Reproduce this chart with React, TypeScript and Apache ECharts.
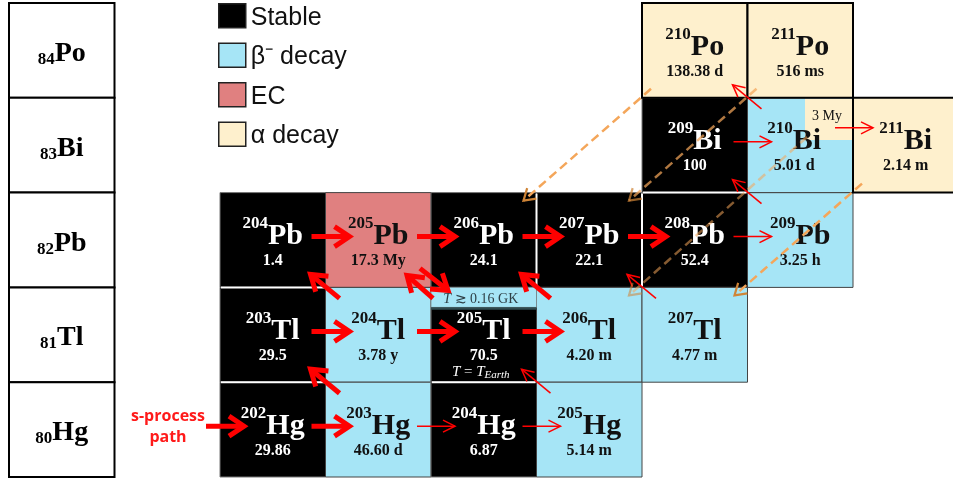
import React, { useEffect, useRef } from "react";
import * as echarts from "echarts";

// ---------------- data ----------------
const rowZ = [84, 83, 82, 81, 80];
const rowSymbols = ["Po", "Bi", "Pb", "Tl", "Hg"];

const cellMass = [204, 205, 206, 207, 208, 209, 203, 204, 205, 206, 207, 202, 203, 204, 205, 209, 210, 211, 210, 211];
const cellZ = [82, 82, 82, 82, 82, 82, 81, 81, 81, 81, 81, 80, 80, 80, 80, 83, 83, 83, 84, 84];
const cellValue = [
  "1.4", "17.3 My", "24.1", "22.1", "52.4", "3.25 h",
  "29.5", "3.78 y", "70.5", "4.20 m", "4.77 m",
  "29.86", "46.60 d", "6.87", "5.14 m",
  "100", "5.01 d", "2.14 m",
  "138.38 d", "516 ms",
];
const cellMode = [
  "stable", "ec", "stable", "stable", "stable", "beta",
  "stable", "beta", "stable", "beta", "beta",
  "stable", "beta", "stable", "beta",
  "stable", "beta", "alpha",
  "alpha", "alpha",
];

// isomer 210mBi
const isomerMass = 210;
const isomerZ = 83;
const isomerHalfLife = "3 My";

// notes on 205Tl
const noteMass = 205;
const noteZ = 81;

// arrows (from nuclide A,Z -> to nuclide A,Z)
const arrowFromA = [201, 202, 203, 204, 205, 204, 205, 206, 207, 208, 203, 204, 209, 210, 204, 203, 206, 205, 205, 205, 207, 209, 210, 210, 211, 211, 210];
const arrowFromZ = [80, 80, 81, 81, 81, 82, 82, 82, 82, 82, 80, 80, 83, 83, 81, 80, 81, 81, 82, 80, 81, 82, 83, 84, 84, 83, 83];
const arrowToA = [202, 203, 204, 205, 206, 205, 206, 207, 208, 209, 204, 205, 210, 211, 204, 203, 206, 205, 205, 205, 207, 209, 210, 206, 207, 207, 206];
const arrowToZ = [80, 80, 81, 81, 81, 82, 82, 82, 82, 82, 80, 80, 83, 83, 82, 81, 82, 82, 81, 81, 82, 83, 84, 82, 82, 81, 81];
const arrowKind = [
  "thick", "thick", "thick", "thick", "thick", "thick", "thick", "thick", "thick",
  "thin", "thin", "thin", "thin", "thin",
  "thick", "thick", "thick", "thick", "thick",
  "thin", "thin", "thin", "thin",
  "alpha", "alpha", "alpha", "alpha",
];
const arrowFromIsomer = [
  false, false, false, false, false, false, false, false, false,
  false, false, false, false, true,
  false, false, false, false, false,
  false, false, false, false,
  false, false, false, true,
];
const entryLabel = ["s-process", "path"];

const legendNames = ["Stable", "β⁻ decay", "EC", "α decay"];
const legendModes = ["stable", "beta", "ec", "alpha"];

// ---------------- styles ----------------
const modeFill: Record<string, string> = {
  stable: "#000000",
  beta: "#a6e5f6",
  ec: "#e08080",
  alpha: "#fef0cd",
};
const modeStroke: Record<string, string> = {
  stable: "#777777",
  beta: "#444444",
  ec: "#444444",
  alpha: "#000000",
};
const modeStrokeW: Record<string, number> = { stable: 1, beta: 1, ec: 1, alpha: 2 };
const SERIF = '"Liberation Serif", "Times New Roman", serif';
const RED = "#ff0000";
const ORANGE = "#f4a65a";
const ISO_W = 0.455;
const ISO_H = 0.445;

// layout of the axes (pixel mapping)
const CHART_W = 953;
const CHART_H = 480;
const COL0_LEFT = 220;
const COL_W = 105.5;
const ROW0_TOP = 3;
const ROW_H = 94.8;
const X_MIN = 121.5 - COL0_LEFT / COL_W;
const X_MAX = 121.5 + (CHART_W - COL0_LEFT) / COL_W;
const Y_MAX = 84.5 + ROW0_TOP / ROW_H;
const Y_MIN = 84.5 - (CHART_H - ROW0_TOP) / ROW_H;

let measureCtx: CanvasRenderingContext2D | null = null;
function measure(text: string, font: string): number {
  if (!measureCtx) measureCtx = document.createElement("canvas").getContext("2d");
  if (!measureCtx) return text.length * 8;
  measureCtx.font = font;
  return measureCtx.measureText(text).width;
}

type Seg = { text: string; size: number; weight?: string; italic?: boolean; family?: string; dy?: number };

function layoutSegs(segs: Seg[], cx: number, cy: number, fill: string) {
  const fonts = segs.map(
    (s) => `${s.italic ? "italic " : ""}${s.weight || "normal"} ${s.size}px ${s.family || SERIF}`
  );
  const widths = segs.map((s, k) => measure(s.text, fonts[k]));
  const total = widths.reduce((a, b) => a + b, 0);
  let x = cx - total / 2;
  return segs.map((s, k) => {
    const el = {
      type: "text",
      x,
      y: cy + (s.dy || 0),
      style: {
        text: s.text,
        fill,
        fontSize: s.size,
        fontWeight: s.weight || "normal",
        fontStyle: s.italic ? "italic" : "normal",
        fontFamily: s.family || SERIF,
        align: "left",
        verticalAlign: "middle",
      },
    };
    x += widths[k];
    return el;
  });
}

function symbolOf(z: number) {
  return rowSymbols[rowZ.indexOf(z)];
}

function cellIndex(a: number, z: number) {
  for (let k = 0; k < cellMass.length; k++) if (cellMass[k] === a && cellZ[k] === z) return k;
  return -1;
}

export default function App() {
  const ref = useRef<HTMLDivElement>(null);

  useEffect(() => {
    if (!ref.current) return;
    const chart = echarts.init(ref.current, undefined, { renderer: "svg" });

    const cellData = cellMass.map((a, i) => [a - cellZ[i], cellZ[i], i]);

    const cellRender = (_p: any, api: any) => {
      const i = api.value(2);
      const N = api.value(0);
      const Z = api.value(1);
      const tl = api.coord([N - 0.5, Z + 0.5]);
      const br = api.coord([N + 0.5, Z - 0.5]);
      const w = br[0] - tl[0];
      const h = br[1] - tl[1];
      const mode = cellMode[i];
      const children: any[] = [
        {
          type: "rect",
          shape: { x: tl[0], y: tl[1], width: w, height: h },
          style: { fill: modeFill[mode], stroke: modeStroke[mode], lineWidth: modeStrokeW[mode] },
        },
      ];
      const hasIso = cellMass[i] === isomerMass && cellZ[i] === isomerZ;
      if (hasIso) {
        const q = api.coord([N + 0.5 - ISO_W, Z + 0.5 - ISO_H]);
        children.push({
          type: "rect",
          shape: { x: q[0], y: tl[1] + 1, width: br[0] - q[0] - 1, height: q[1] - tl[1] - 1 },
          style: { fill: modeFill.alpha },
        });
        children.push(
          ...layoutSegs([{ text: isomerHalfLife, size: 14 }], (q[0] + br[0]) / 2 - 2, (tl[1] + q[1]) / 2 - 3, "#111")
        );
      }
      const fill = mode === "stable" ? "#ffffff" : "#111111";
      const cx = tl[0] + w / 2 + (hasIso ? -6 : 0);
      const massTxt = String(cellMass[i]);
      const sym = symbolOf(cellZ[i]);
      const fm = `bold 17px ${SERIF}`;
      const fs = `bold 30px ${SERIF}`;
      const wm = measure(massTxt, fm);
      const ws = measure(sym, fs);
      const x0 = cx - (wm + ws) / 2;
      children.push({
        type: "text",
        x: x0,
        y: tl[1] + 30,
        style: { text: massTxt, fill, fontSize: 17, fontWeight: "bold", fontFamily: SERIF, align: "left", verticalAlign: "middle" },
      });
      children.push({
        type: "text",
        x: x0 + wm,
        y: tl[1] + 41,
        style: { text: sym, fill, fontSize: 30, fontWeight: "bold", fontFamily: SERIF, align: "left", verticalAlign: "middle" },
      });
      children.push({
        type: "text",
        x: cx,
        y: tl[1] + 67,
        style: { text: cellValue[i], fill, fontSize: 16, fontWeight: "bold", fontFamily: SERIF, align: "center", verticalAlign: "middle" },
      });
      return { type: "group", children };
    };

    // white separators between neighbouring stable cells
    const sepData: number[][] = [];
    for (let i = 0; i < cellMass.length; i++) {
      for (let j = 0; j < cellMass.length; j++) {
        if (cellMode[i] !== "stable" || cellMode[j] !== "stable") continue;
        const Ni = cellMass[i] - cellZ[i];
        const Nj = cellMass[j] - cellZ[j];
        if (cellZ[i] === cellZ[j] && Nj === Ni + 1) sepData.push([Ni, cellZ[i], 0]);
        if (Ni === Nj && cellZ[j] === cellZ[i] - 1) {
          if (cellMass[j] === noteMass && cellZ[j] === noteZ) continue;
          sepData.push([Ni, cellZ[i], 1]);
        }
      }
    }
    const sepRender = (_p: any, api: any) => {
      const N = api.value(0);
      const Z = api.value(1);
      const vertical = api.value(2) === 0;
      let shape;
      if (vertical) {
        const a = api.coord([N + 0.5, Z + 0.5]);
        const b = api.coord([N + 0.5, Z - 0.5]);
        shape = { x1: a[0], y1: a[1] + 1, x2: b[0], y2: b[1] - 1 };
      } else {
        const a = api.coord([N - 0.5, Z - 0.5]);
        const b = api.coord([N + 0.5, Z - 0.5]);
        shape = { x1: a[0] + 1, y1: a[1], x2: b[0] - 1, y2: b[1] };
      }
      return { type: "line", shape, style: { stroke: "#ffffff", lineWidth: 2 } };
    };

    // notes on 205Tl
    const noteRender = (_p: any, api: any) => {
      const N = api.value(0);
      const Z = api.value(1);
      const tl = api.coord([N - 0.5, Z + 0.5]);
      const br = api.coord([N + 0.5, Z - 0.5]);
      const w = br[0] - tl[0];
      const cx = tl[0] + w / 2;
      const children: any[] = [
        {
          type: "rect",
          shape: { x: tl[0], y: tl[1], width: w, height: 20 },
          style: { fill: modeFill.beta, stroke: "#7a8a8e", lineWidth: 0.8 },
        },
        {
          type: "line",
          shape: { x1: tl[0], y1: tl[1] + 21, x2: br[0], y2: tl[1] + 21 },
          style: { stroke: "#2f4a4f", lineWidth: 2.5 },
        },
        ...layoutSegs(
          [
            { text: "T", size: 14, italic: true },
            { text: " ≳ 0.16 GK", size: 14 },
          ],
          cx - 3,
          tl[1] + 11,
          "#2e3f46"
        ),
        ...layoutSegs(
          [
            { text: "T", size: 15, italic: true },
            { text: " = ", size: 15 },
            { text: "T", size: 15, italic: true },
            { text: "Earth", size: 11, italic: true, dy: 3 },
          ],
          cx - 3,
          tl[1] + 84,
          "#ffffff"
        ),
      ];
      return { type: "group", children };
    };

    const hasReverse = (i: number) => {
      for (let k = 0; k < arrowFromA.length; k++) {
        if (arrowFromA[k] === arrowToA[i] && arrowFromZ[k] === arrowToZ[i] && arrowToA[k] === arrowFromA[i] && arrowToZ[k] === arrowFromZ[i]) return true;
      }
      return false;
    };

    const arrowRender = (_p: any, api: any) => {
      const i = api.value(2);
      const fA = arrowFromA[i];
      const fZ = arrowFromZ[i];
      const tA = arrowToA[i];
      const tZ = arrowToZ[i];
      const fN = fA - fZ;
      const tN = tA - tZ;
      const iso = arrowFromIsomer[i];
      const kind = arrowKind[i];
      let p1: number[];
      let p2: number[];
      if (tZ === fZ) {
        const b = api.coord([fN + 0.5, fZ + 0.5]);
        const y = b[1] + (iso ? 30 : 44);
        p1 = [b[0] - (iso ? 18 : 14), y];
        p2 = [b[0] + (iso ? 20 : 24), y];
      } else if (tZ === fZ + 1) {
        const c = api.coord([fN - 0.5, fZ + 0.5]);
        const paired = hasReverse(i);
        p1 = paired ? [c[0] + 2, c[1] + 11] : [c[0] + 14, c[1] + 11];
        p2 = paired ? [c[0] - 24, c[1] - 12] : [c[0] - 15, c[1] - 13];
      } else if (tZ === fZ - 1) {
        const c = api.coord([tN - 0.5, tZ + 0.5]);
        p1 = [c[0] - 11, c[1] - 19];
        p2 = [c[0] + 17, c[1] + 3];
      } else {
        const s = iso ? api.coord([fN + 0.5 - ISO_W, fZ + 0.5 - ISO_H]) : api.coord([fN - 0.5, fZ - 0.5]);
        const t = api.coord([tN + 0.5, tZ + 0.5]);
        p1 = iso ? [s[0] + 2, s[1] - 3] : [s[0] + 9, s[1] - 9];
        p2 = [t[0] - 13, t[1] + 8];
      }
      const dx = p2[0] - p1[0];
      const dy = p2[1] - p1[1];
      const len = Math.sqrt(dx * dx + dy * dy);
      const ux = dx / len;
      const uy = dy / len;
      const nx = -uy;
      const ny = ux;
      let back = 12, side = 6, lw = 1.5, headW = 1.5, color = RED, headColor = RED, opacity = 1;
      let dash: number[] | undefined;
      if (kind === "thick") {
        back = 15; side = 10; lw = 5; headW = 5;
      } else if (kind === "alpha") {
        back = 11; side = 7; lw = 2.5; headW = 2.2; color = ORANGE; headColor = "#cf8436";
        dash = [9, 5];
        if (iso) opacity = 0.55;
        else if (fZ === 84 && fA === 211) opacity = 0.72;
      }
      const shaftEnd = kind === "thick" ? [p2[0] - ux * 3, p2[1] - uy * 3] : p2;
      const children: any[] = [
        {
          type: "line",
          shape: { x1: p1[0], y1: p1[1], x2: shaftEnd[0], y2: shaftEnd[1] },
          style: { stroke: color, lineWidth: lw, lineDash: dash, opacity },
        },
        {
          type: "polyline",
          shape: {
            points: [
              [p2[0] - ux * back + nx * side, p2[1] - uy * back + ny * side],
              [p2[0], p2[1]],
              [p2[0] - ux * back - nx * side, p2[1] - uy * back - ny * side],
            ],
          },
          style: { stroke: headColor, lineWidth: headW, fill: null, lineJoin: "miter", opacity },
        },
      ];
      if (cellIndex(fA, fZ) < 0) {
        children.push(
          ...layoutSegs([{ text: entryLabel[0], size: 16, weight: "bold", family: '"Open Sans", sans-serif' }], p1[0] - 38, p1[1] - 11, "#ff1a1a"),
          ...layoutSegs([{ text: entryLabel[1], size: 16, weight: "bold", family: '"Open Sans", sans-serif' }], p1[0] - 38, p1[1] + 10, "#ff1a1a")
        );
      }
      return { type: "group", children };
    };

    const rowRender = (_p: any, api: any) => {
      const i = api.value(2);
      const N = api.value(0);
      const Z = api.value(1);
      const tl = api.coord([N - 0.5, Z + 0.5]);
      const br = api.coord([N + 0.5, Z - 0.5]);
      const cx = (tl[0] + br[0]) / 2;
      const cy = (tl[1] + br[1]) / 2;
      return {
        type: "group",
        children: [
          {
            type: "rect",
            shape: { x: tl[0], y: tl[1], width: br[0] - tl[0], height: br[1] - tl[1] },
            style: { fill: "#ffffff", stroke: "#000000", lineWidth: 2 },
          },
          ...layoutSegs(
            [
              { text: String(rowZ[i]), size: 17, weight: "bold", dy: 8 },
              { text: rowSymbols[i], size: 28, weight: "bold", dy: 1 },
            ],
            cx,
            cy,
            "#000000"
          ),
        ],
      };
    };

    const option: any = {
      animation: false,
      grid: { left: 0, top: 0, width: CHART_W, height: CHART_H, containLabel: false },
      xAxis: { type: "value", min: X_MIN, max: X_MAX, show: false },
      yAxis: { type: "value", min: Y_MIN, max: Y_MAX, show: false },
      legend: {
        data: legendNames,
        orient: "vertical",
        left: 218,
        top: 3,
        padding: 0,
        itemWidth: 27,
        itemHeight: 24,
        itemGap: 14,
        icon: "rect",
        selectedMode: false,
        itemStyle: { borderColor: "#222222", borderWidth: 1.5, opacity: 1 },
        textStyle: { fontSize: 25, fontFamily: '"Liberation Sans", Arial, sans-serif', color: "#111111" },
      },
      series: [
        { type: "custom", name: "rows", renderItem: rowRender, data: rowZ.map((z, i) => [120, z, i]), z: 1, silent: true },
        { type: "custom", name: "cells", renderItem: cellRender, data: cellData, z: 2, silent: true },
        { type: "custom", name: "sep", renderItem: sepRender, data: sepData, z: 3, silent: true },
        { type: "custom", name: "notes", renderItem: noteRender, data: [[noteMass - noteZ, noteZ, 0]], z: 4, silent: true },
        { type: "custom", name: "arrows", renderItem: arrowRender, data: arrowFromA.map((a, i) => [a - arrowFromZ[i], arrowFromZ[i], i]), z: 5, silent: true },
        ...legendNames.map((n, k) => ({
          type: "scatter",
          name: n,
          data: [],
          itemStyle: { color: modeFill[legendModes[k]], opacity: 1 },
        })),
      ],
    };
    chart.setOption(option);
    return () => chart.dispose();
  }, []);

  return <div ref={ref} style={{ position: "fixed", left: 0, top: 0, width: CHART_W, height: CHART_H }} />;
}
